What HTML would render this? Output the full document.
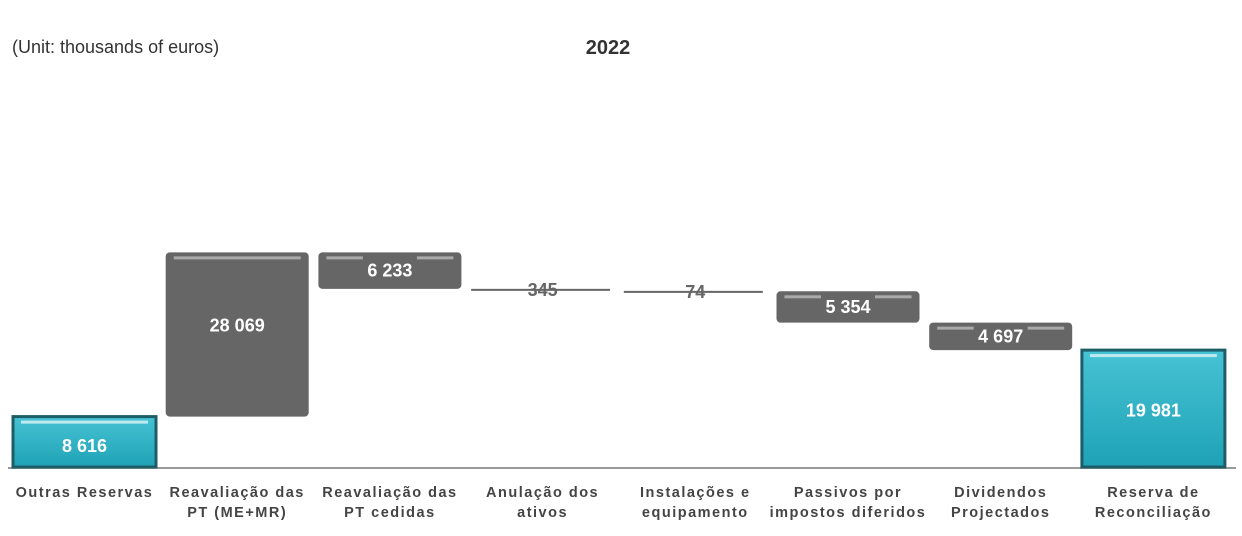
<!DOCTYPE html>
<html><head><meta charset="utf-8">
<style>
body{margin:0;background:#fff;width:1242px;height:531px;overflow:hidden;font-family:"Liberation Sans",sans-serif}
</style></head>
<body>
<svg id="chart" width="1242" height="531" xmlns="http://www.w3.org/2000/svg">
<defs>
<linearGradient id="teal" x1="0" y1="0" x2="0" y2="1"><stop offset="0" stop-color="#46c3d4"/><stop offset="1" stop-color="#1fa2b6"/></linearGradient>
</defs>
<text x="12" y="53" font-size="18" fill="#333">(Unit: thousands of euros)</text>
<text x="608" y="54" font-size="20" font-weight="bold" fill="#333" text-anchor="middle">2022</text>
<line x1="8" y1="468" x2="1236" y2="468" stroke="#999" stroke-width="2"/>
</svg>
<script>
const categories=[["Outras Reservas"],["Reavaliação das","PT (ME+MR)"],["Reavaliação das","PT cedidas"],["Anulação dos","ativos"],["Instalações e","equipamento"],["Passivos por","impostos diferidos"],["Dividendos","Projectados"],["Reserva de","Reconciliação"]];
const values=[8616,28069,-6233,-345,-74,-5354,-4697,19981];
const labels=["8 616","28 069","6 233","345","74","5 354","4 697","19 981"];
const isTotal=[true,false,false,false,false,false,false,true];
const svg=document.getElementById('chart');
const NS='http://www.w3.org/2000/svg';
const base=467,scale=0.00585,x0=13,step=152.7,bw=143;
const y=v=>base-v*scale;
const xs=i=>x0+i*step;
let run=0;
function mk(t,a){const e=document.createElementNS(NS,t);for(const k in a)e.setAttribute(k,a[k]);svg.appendChild(e);return e;}
values.forEach((v,i)=>{
  let lo,hi;
  if(isTotal[i]){lo=0;hi=v;run=v;}else{lo=Math.min(run,run+v);hi=Math.max(run,run+v);run+=v;}
  const top=y(hi),bot=y(lo),h=Math.max(bot-top,1.5);
  const x=xs(i);
  let r;
  if(h<6){
    r=mk('rect',{x:x,y:top,width:bw-4,height:2,fill:'#666'});
  }else{
    r=mk('rect',{x:x,y:top,width:bw,height:h,rx:isTotal[i]?0:4,fill:isTotal[i]?'url(#teal)':'#666',stroke:isTotal[i]?'#1d5d68':'none','stroke-width':isTotal[i]?3:0});
    if(isTotal[i]||h>=60){
      const hl=mk('rect',{x:x+8,y:top+4,width:bw-16,height:3,fill:isTotal[i]?'#bfe9f0':'#aaa'});
      
      
    }else{
      const hl1=mk('rect',{x:x+8,y:top+4,width:bw/2-35,height:3,fill:'#aaa'});
      
      
      const hl2=mk('rect',{x:x+bw/2+27,y:top+4,width:bw/2-35,height:3,fill:'#aaa'});
      
      
    }
  }
  
  
  let ty=h<6?top+7:(h<60?top+h/2+6:top+h/2+8);
  if(h>=60&&!isTotal[i]) ty=top+h/2-3;
  if(isTotal[i]&&i==0) ty=top+h/2+10;
  const t=mk('text',{x:x+bw/2,y:ty,'font-size':18,'font-weight':'bold','text-anchor':'middle',fill:h<6?'#666':'#fff'});
  t.textContent=labels[i];
  
  
  categories[i].forEach((ln,j)=>{
    const c=mk('text',{x:x+bw/2,y:497+j*20,'font-size':14.5,'font-weight':'bold','letter-spacing':'1.5','text-anchor':'middle',fill:'#444'});
    c.textContent=ln;
    
    
  });
});
</script>
</body></html>
